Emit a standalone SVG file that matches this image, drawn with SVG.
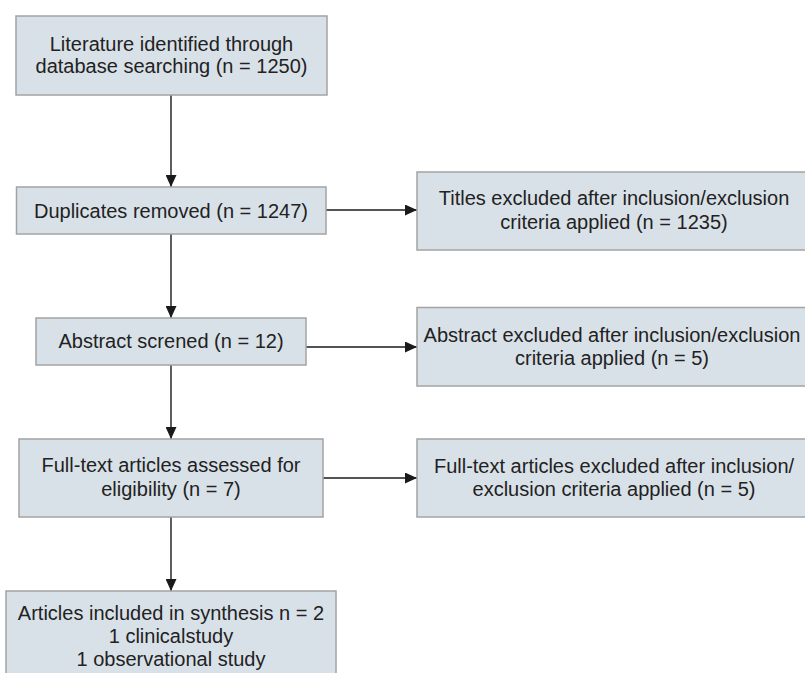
<svg xmlns="http://www.w3.org/2000/svg" width="805" height="673" viewBox="0 0 805 673">
  <style>
    .box { fill: #d9e1e8; stroke: #a3a3a3; stroke-width: 1.5; }
    .t { font-family: "Liberation Sans", Arial, sans-serif; font-size: 20px; fill: #222; text-anchor: middle; }
    .conn { stroke: #1a1a1a; stroke-width: 1.4; fill: none; marker-end: url(#ah); }
  </style>
  <defs>
    <marker id="ah" markerWidth="12" markerHeight="11" refX="12" refY="5.5" orient="auto" markerUnits="userSpaceOnUse">
      <path d="M0,0 L12,5.5 L0,11 z" fill="#1a1a1a"/>
    </marker>
  </defs>
  <rect width="805" height="673" fill="#ffffff"/>

  <g id="connectors">
    <line class="conn" x1="171" y1="95" x2="171" y2="187"/>
    <line class="conn" x1="326" y1="210" x2="417" y2="210"/>
    <line class="conn" x1="171" y1="234" x2="171" y2="318"/>
    <line class="conn" x1="306" y1="347" x2="417" y2="347"/>
    <line class="conn" x1="171" y1="365" x2="171" y2="439"/>
    <line class="conn" x1="323" y1="478" x2="417" y2="478"/>
    <line class="conn" x1="171" y1="517" x2="171" y2="591"/>
  </g>

  <g id="identified">
    <rect class="box" x="16" y="16" width="311" height="79"/>
    <text class="t" x="171.5" y="51">Literature identified through</text>
    <text class="t" x="171.5" y="73">database searching (n = 1250)</text>
  </g>

  <g id="duplicates">
    <rect class="box" x="16.5" y="187" width="309.5" height="47"/>
    <text class="t" x="171" y="217.5">Duplicates removed (n = 1247)</text>
  </g>

  <g id="titles-excluded">
    <rect class="box" x="417" y="172" width="395" height="78"/>
    <text class="t" x="614" y="205">Titles excluded after inclusion/exclusion</text>
    <text class="t" x="614" y="229">criteria applied (n = 1235)</text>
  </g>

  <g id="abstract-screened">
    <rect class="box" x="36" y="318" width="270" height="47"/>
    <text class="t" x="171" y="348">Abstract screned (n = 12)</text>
  </g>

  <g id="abstract-excluded">
    <rect class="box" x="417" y="307.5" width="395" height="78.5"/>
    <text class="t" x="612" y="342">Abstract excluded after inclusion/exclusion</text>
    <text class="t" x="612" y="365">criteria applied (n = 5)</text>
  </g>

  <g id="fulltext-assessed">
    <rect class="box" x="19" y="439" width="304" height="78"/>
    <text class="t" x="171" y="472">Full-text articles assessed for</text>
    <text class="t" x="171" y="496">eligibility (n = 7)</text>
  </g>

  <g id="fulltext-excluded">
    <rect class="box" x="417" y="439" width="395" height="78"/>
    <text class="t" x="614" y="473">Full-text articles excluded after inclusion/</text>
    <text class="t" x="614" y="496">exclusion criteria applied (n = 5)</text>
  </g>

  <g id="included">
    <rect class="box" x="6" y="591" width="330" height="90"/>
    <text class="t" x="171" y="620">Articles included in synthesis n = 2</text>
    <text class="t" x="171" y="643">1 clinicalstudy</text>
    <text class="t" x="171" y="666">1 observational study</text>
  </g>
</svg>
